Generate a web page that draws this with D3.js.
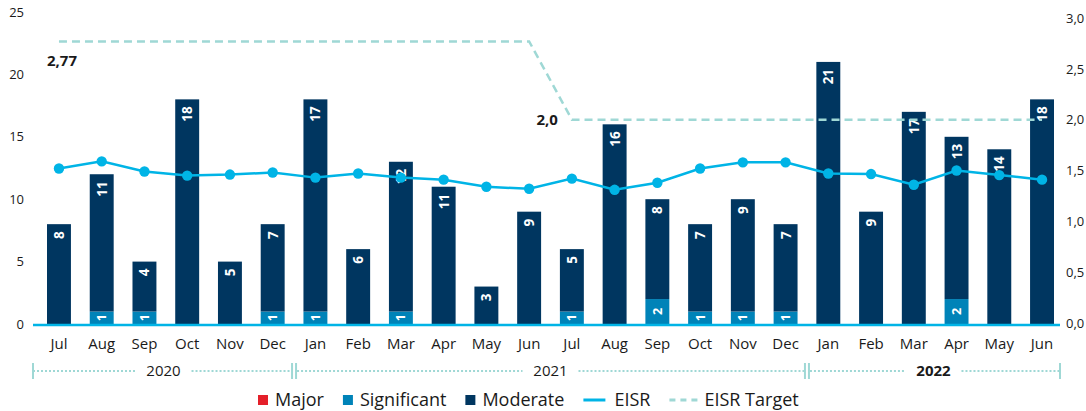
<!DOCTYPE html>
<html>
<head>
<meta charset="utf-8">
<script src="https://cdn.jsdelivr.net/npm/d3@7"></script>
<style>
  body { margin: 0; background: #fff; }
  svg { display: block; font-family: "Open Sans", "Noto Sans", sans-serif; }
</style>
</head>
<body>
<div id="chart"></div>
<script>
// Incident counts per month with EISR and EISR target
const months = ["Jul", "Aug", "Sep", "Oct", "Nov", "Dec", "Jan", "Feb", "Mar", "Apr", "May", "Jun",
  "Jul", "Aug", "Sep", "Oct", "Nov", "Dec", "Jan", "Feb", "Mar", "Apr", "May", "Jun"];
const years = [
  { label: "2020", from: 0, to: 5, bold: false },
  { label: "2021", from: 6, to: 17, bold: false },
  { label: "2022", from: 18, to: 23, bold: true }
];
const major = [0, 0, 0, 0, 0, 0, 0, 0, 0, 0, 0, 0, 0, 0, 0, 0, 0, 0, 0, 0, 0, 0, 0, 0];
const significant = [0, 1, 1, 0, 0, 1, 1, 0, 1, 0, 0, 0, 1, 0, 2, 1, 1, 1, 0, 0, 0, 2, 0, 0];
const moderate = [8, 11, 4, 18, 5, 7, 17, 6, 12, 11, 3, 9, 5, 16, 8, 7, 9, 7, 21, 9, 17, 13, 14, 18];
const eisr = [1.52, 1.59, 1.49, 1.45, 1.46, 1.48, 1.43, 1.47, 1.43, 1.41, 1.34, 1.32,
  1.42, 1.31, 1.38, 1.52, 1.58, 1.58, 1.47, 1.465, 1.36, 1.50, 1.455, 1.41];
const eisrTarget = [2.77, 2.77, 2.77, 2.77, 2.77, 2.77, 2.77, 2.77, 2.77, 2.77, 2.77, 2.77,
  2.0, 2.0, 2.0, 2.0, 2.0, 2.0, 2.0, 2.0, 2.0, 2.0, 2.0, 2.0];
const leftTicks = [0, 5, 10, 15, 20, 25];
const rightTicks = [0, 0.5, 1.0, 1.5, 2.0, 2.5, 3.0];

const colors = {
  major: "#e4202a",
  significant: "#0083b8",
  moderate: "#003660",
  eisr: "#00b4e6",
  target: "#9fd8d5",
  text: "#1a1a1a"
};

const W = 1086, H = 411;
const svg = d3.select("#chart").append("svg")
  .attr("width", W)
  .attr("height", H);

const x = d3.scaleBand()
  .domain(d3.range(months.length))
  .range([37.6, 1063.4])
  .paddingInner(0.44)
  .paddingOuter(0.22);
const cx = i => x(i) + x.bandwidth() / 2;

const yL = d3.scaleLinear().domain([0, 25]).range([324, 12]);
const yR = d3.scaleLinear().domain([0, 3]).range([323, 18]);

const fmtComma = d => d3.format(".1f")(d).replace(".", ",");

// Left axis
const leftAxis = svg.append("g")
  .attr("transform", "translate(27,0)")
  .call(d3.axisLeft(yL).tickValues(leftTicks).tickSize(0).tickPadding(3));
leftAxis.select(".domain").remove();
leftAxis.selectAll("text")
  .style("font-size", "13px")
  .style("font-family", "'Open Sans', sans-serif")
  .style("fill", colors.text);

// Right axis
const rightAxis = svg.append("g")
  .attr("transform", "translate(1063,0)")
  .call(d3.axisRight(yR).tickValues(rightTicks).tickSize(0).tickPadding(3).tickFormat(fmtComma));
rightAxis.select(".domain").remove();
rightAxis.selectAll("text")
  .style("font-size", "13px")
  .style("font-family", "'Open Sans', sans-serif")
  .style("fill", colors.text);

// Stacked bars
const rows = months.map((m, i) => ({
  i, major: major[i], significant: significant[i], moderate: moderate[i]
}));
const stack = d3.stack().keys(["major", "significant", "moderate"]);
const series = stack(rows);

const barG = svg.append("g");
barG.selectAll("g.series")
  .data(series)
  .join("g")
  .attr("class", "series")
  .attr("fill", s => colors[s.key])
  .selectAll("rect")
  .data(s => s.filter(d => d[1] > d[0]))
  .join("rect")
  .attr("x", d => x(d.data.i))
  .attr("width", x.bandwidth())
  .attr("y", d => yL(d[1]))
  .attr("height", d => yL(d[0]) - yL(d[1]));

// Baseline
svg.append("line")
  .attr("x1", 33).attr("x2", 1060)
  .attr("y1", yL(0) + 1).attr("y2", yL(0) + 1)
  .attr("stroke", colors.eisr)
  .attr("stroke-width", 2.5);

// Moderate labels near top of bar
const modSeries = series.find(s => s.key === "moderate");
svg.append("g").selectAll("text")
  .data(modSeries.filter(d => d[1] > d[0]))
  .join("text")
  .attr("transform", d => `translate(${cx(d.data.i)},${yL(d[1]) + 7}) rotate(-90)`)
  .attr("text-anchor", "end")
  .attr("dominant-baseline", "central")
  .style("font-size", "13.5px")
  .style("font-weight", "bold")
  .style("fill", "#fff")
  .text(d => d.data.moderate);

// Significant labels centred in their segment
const sigSeries = series.find(s => s.key === "significant");
svg.append("g").selectAll("text")
  .data(sigSeries.filter(d => d[1] > d[0]))
  .join("text")
  .attr("transform", d => `translate(${cx(d.data.i)},${(yL(d[0]) + yL(d[1])) / 2}) rotate(-90)`)
  .attr("text-anchor", "middle")
  .attr("dominant-baseline", "central")
  .style("font-size", "12.5px")
  .style("font-weight", "bold")
  .style("fill", "#fff")
  .text(d => d.data.significant);

// EISR target (dashed)
const targetLine = d3.line()
  .x((d, i) => cx(i))
  .y(d => yR(d));
svg.append("path")
  .datum(eisrTarget)
  .attr("d", targetLine)
  .attr("fill", "none")
  .attr("stroke", colors.target)
  .attr("stroke-width", 2.5)
  .attr("stroke-dasharray", "8,5");

svg.append("text")
  .attr("x", cx(0) - 12)
  .attr("y", yR(eisrTarget[0]) + 25)
  .style("font-size", "15px")
  .style("font-weight", "bold")
  .style("fill", colors.text)
  .text(d3.format(".2f")(eisrTarget[0]).replace(".", ","));

svg.append("text")
  .attr("x", cx(12) - 14)
  .attr("y", yR(eisrTarget[12]) + 5)
  .attr("text-anchor", "end")
  .style("font-size", "15px")
  .style("font-weight", "bold")
  .style("fill", colors.text)
  .text(fmtComma(eisrTarget[12]));

// EISR line
const eisrLine = d3.line()
  .x((d, i) => cx(i))
  .y(d => yR(d));
svg.append("path")
  .datum(eisr)
  .attr("d", eisrLine)
  .attr("fill", "none")
  .attr("stroke", colors.eisr)
  .attr("stroke-width", 2.5);
svg.append("g").selectAll("circle")
  .data(eisr)
  .join("circle")
  .attr("cx", (d, i) => cx(i))
  .attr("cy", d => yR(d))
  .attr("r", 5.2)
  .attr("fill", colors.eisr);

// Month labels
svg.append("g").selectAll("text")
  .data(months)
  .join("text")
  .attr("x", (d, i) => cx(i))
  .attr("y", 349)
  .attr("text-anchor", "middle")
  .style("font-size", "15px")
  .style("fill", colors.text)
  .text(d => d);

// Year brackets
const yearY = 371;
const bounds = [33, (cx(5) + cx(6)) / 2, (cx(17) + cx(18)) / 2, 1060];
const yearG = svg.append("g");
years.forEach((yr, k) => {
  const x0 = bounds[k], x1 = bounds[k + 1];
  const mid = (x0 + x1) / 2;
  const half = 28;
  const sx0 = k === 0 ? x0 : x0 + 3;
  const sx1 = k === years.length - 1 ? x1 : x1 - 3;
  [[sx0, mid - half], [mid + half, sx1]].forEach(([a, b]) => {
    yearG.append("line")
      .attr("x1", a).attr("x2", b)
      .attr("y1", yearY).attr("y2", yearY)
      .attr("stroke", colors.target)
      .attr("stroke-width", 2)
      .attr("stroke-dasharray", "2,2");
  });
  yearG.append("text")
    .attr("x", mid)
    .attr("y", yearY + 5)
    .attr("text-anchor", "middle")
    .style("font-size", "15px")
    .style("font-weight", yr.bold ? "bold" : "normal")
    .style("fill", colors.text)
    .text(yr.label);
});
// bracket end ticks
[33, bounds[1] - 2, bounds[1] + 2, bounds[2] - 2, bounds[2] + 2, 1060].forEach(bx => {
  yearG.append("line")
    .attr("x1", bx).attr("x2", bx)
    .attr("y1", yearY - 8).attr("y2", yearY + 8)
    .attr("stroke", colors.target)
    .attr("stroke-width", 2);
});

// Legend
const legendItems = [
  { label: "Major", type: "rect", color: colors.major },
  { label: "Significant", type: "rect", color: colors.significant },
  { label: "Moderate", type: "rect", color: colors.moderate },
  { label: "EISR", type: "line", color: colors.eisr },
  { label: "EISR Target", type: "dash", color: colors.target }
];
const legend = svg.append("g").attr("transform", "translate(0,400)");
let lx = 258;
legendItems.forEach(item => {
  const g = legend.append("g").attr("transform", `translate(${lx},0)`);
  let sw;
  if (item.type === "rect") {
    g.append("rect").attr("x", 0).attr("y", -5).attr("width", 10).attr("height", 10).attr("fill", item.color);
    sw = 17;
  } else if (item.type === "line") {
    g.append("line").attr("x1", 0).attr("x2", 22).attr("y1", 0).attr("y2", 0)
      .attr("stroke", item.color).attr("stroke-width", 3);
    sw = 31;
  } else {
    g.append("line").attr("x1", 0).attr("x2", 29).attr("y1", 0).attr("y2", 0)
      .attr("stroke", item.color).attr("stroke-width", 3)
      .attr("stroke-dasharray", "6,5");
    sw = 35;
  }
  const t = g.append("text")
    .attr("x", sw)
    .attr("y", 6)
    .style("font-size", "18px")
    .style("fill", colors.text)
    .text(item.label);
  lx += sw + t.node().getComputedTextLength() + 19;
});
</script>
</body>
</html>
